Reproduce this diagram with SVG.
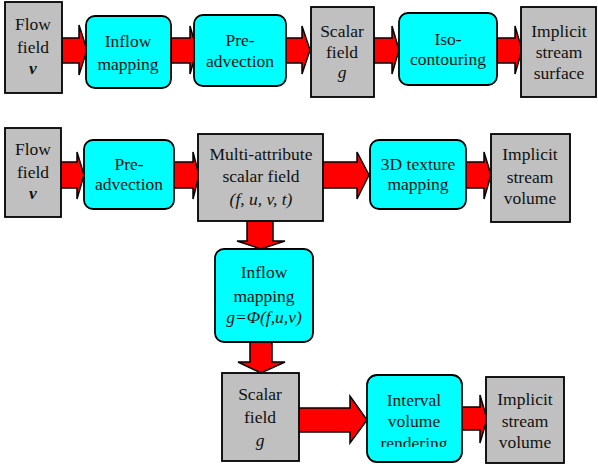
<svg xmlns="http://www.w3.org/2000/svg" width="598" height="466" viewBox="0 0 598 466">
<style>
.g{fill:#c0c0c0;stroke:#000;stroke-width:1.8}
.c{fill:#00ffff;stroke:#000;stroke-width:1.8}
.a{fill:#ff0000;stroke:#000;stroke-width:1.5;stroke-linejoin:miter}
text{font-family:"Liberation Serif","Times New Roman",serif;font-size:17.5px;fill:#111;text-anchor:middle}
.i{font-style:italic}
.b{font-weight:bold;font-style:italic}
</style>
<defs>
<clipPath id="clipIVR"><rect x="367" y="375" width="96" height="72"/></clipPath>
</defs>
<rect width="598" height="466" fill="#fff"/>
<g id="connectors">
<polygon class="a" points="62,38 79,38 79,25 87,50 79,75 79,63 62,63"/>
<polygon class="a" points="171,38 190,38 190,26 197,50 190,74 190,63 171,63"/>
<polygon class="a" points="286,38 302,38 302,26 310,50 302,74 302,63 286,63"/>
<polygon class="a" points="374,38 392,38 392,26 399,50 392,74 392,63 374,63"/>
<polygon class="a" points="497,38 515,38 515,26 522,50 515,74 515,63 497,63"/>
<polygon class="a" points="61,162 77,162 77,152 84,175 77,199 77,188 61,188"/>
<polygon class="a" points="174,162 193,162 193,152 199,175 193,199 193,188 174,188"/>
<polygon class="a" points="323,162 357,162 357,152 369,175 357,199 357,188 323,188"/>
<polygon class="a" points="466,162 484,162 484,152 491,175 484,199 484,188 466,188"/>
<polygon class="a" points="247,221 273,221 273,241 285,241 261,249 237,241 247,241"/>
<polygon class="a" points="250,342 272,342 272,362 285,362 261,373 238,362 250,362"/>
<polygon class="a" points="299,408 350,408 350,396 367,420 350,443 350,432 299,432"/>
<polygon class="a" points="462,407 480,407 480,395 487,419 480,443 480,430 462,430"/>
</g>
<g id="flow1"><rect class="g" x="5" y="2" width="57" height="91"/>
<text x="33" y="30">Flow</text><text x="33" y="53">field</text><text x="33" y="74" class="b">v</text></g>
<g id="inflow1"><rect class="c" x="86" y="16" width="85" height="72" rx="9"/>
<text x="128" y="47">Inflow</text><text x="128" y="70">mapping</text></g>
<g id="preadv1"><rect class="c" x="194" y="15" width="92" height="71" rx="9"/>
<text x="240" y="46">Pre-</text><text x="240" y="67">advection</text></g>
<g id="scalar1"><rect class="g" x="311" y="7" width="63" height="90"/>
<text x="342" y="37">Scalar</text><text x="342" y="58">field</text><text x="342" y="78" class="i">g</text></g>
<g id="iso"><rect class="c" x="399" y="13" width="98" height="72" rx="9"/>
<text x="448" y="45">Iso-</text><text x="448" y="65">contouring</text></g>
<g id="surface"><rect class="g" x="521" y="7" width="75" height="90"/>
<text x="559" y="37">Implicit</text><text x="559" y="58">stream</text><text x="559" y="79">surface</text></g>
<g id="flow2"><rect class="g" x="5" y="128" width="56" height="89"/>
<text x="33" y="155">Flow</text><text x="33" y="178">field</text><text x="33" y="199" class="b">v</text></g>
<g id="preadv2"><rect class="c" x="84" y="140" width="90" height="69" rx="9"/>
<text x="129" y="170">Pre-</text><text x="129" y="190">advection</text></g>
<g id="multi"><rect class="g" x="198" y="134" width="125" height="87"/>
<text x="261" y="160">Multi-attribute</text><text x="261" y="182">scalar field</text><text x="261" y="205" class="i">(f, u, v, t)</text></g>
<g id="texture"><rect class="c" x="370" y="140" width="96" height="69" rx="9"/>
<text x="418" y="170">3D texture</text><text x="418" y="190">mapping</text></g>
<g id="volume1"><rect class="g" x="491" y="134" width="79" height="88"/>
<text x="530" y="160">Implicit</text><text x="530" y="183">stream</text><text x="530" y="204">volume</text></g>
<g id="inflow2"><rect class="c" x="215" y="249" width="98" height="93" rx="9"/>
<text x="264" y="278">Inflow</text><text x="264" y="302">mapping</text><text x="264" y="323" class="i">g=Φ(f,u,v)</text></g>
<g id="scalar2"><rect class="g" x="222" y="373" width="77" height="88"/>
<text x="260" y="400">Scalar</text><text x="260" y="423">field</text><text x="260" y="446" class="i">g</text></g>
<g id="ivr"><rect class="c" x="367" y="375" width="95" height="87" rx="10"/>
<g clip-path="url(#clipIVR)"><text x="414" y="406">Interval</text><text x="414" y="427">volume</text><text x="414" y="449">rendering</text></g></g>
<g id="volume2"><rect class="g" x="486" y="377" width="78" height="86"/>
<text x="525" y="405">Implicit</text><text x="525" y="427">stream</text><text x="525" y="448">volume</text></g>
</svg>
